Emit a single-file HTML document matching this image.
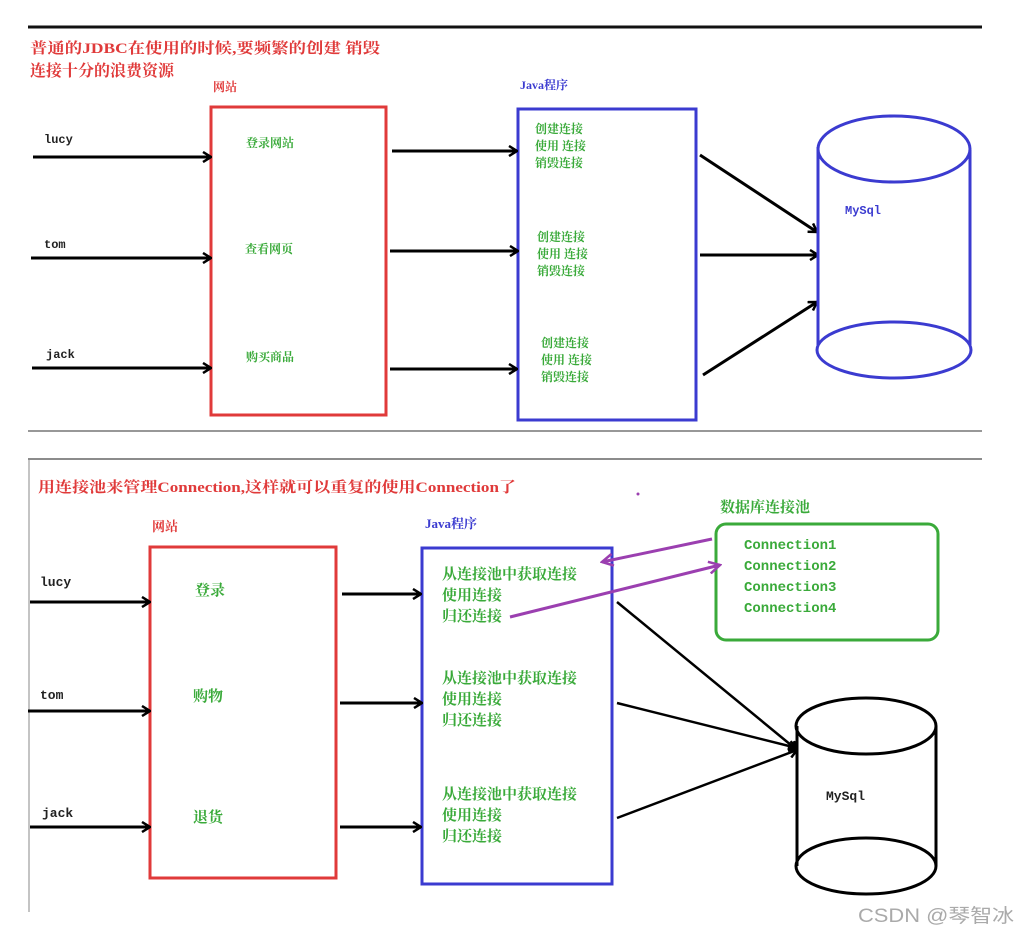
<!DOCTYPE html>
<html><head><meta charset="utf-8"><style>
html,body{margin:0;padding:0;background:#fff;}
svg{display:block;}
text{font-family:"Liberation Serif","Noto Serif CJK SC","WenQuanYi Zen Hei",serif;font-weight:bold;}
.m{font-family:"Liberation Mono","Noto Serif CJK SC",monospace;}
</style></head><body>
<svg width="1018" height="933" viewBox="0 0 1018 933" xmlns="http://www.w3.org/2000/svg">
<defs>
<marker id="a" markerWidth="10" markerHeight="12" refX="9" refY="6" orient="auto" markerUnits="userSpaceOnUse"><path d="M1,1 L9,6 L1,11" fill="none" stroke="#000" stroke-width="2.5"/></marker>
<marker id="p" markerWidth="14" markerHeight="14" refX="12" refY="7" orient="auto" markerUnits="userSpaceOnUse"><path d="M1,1 L12,7 L1,13" fill="none" stroke="#9b3fb0" stroke-width="2.5"/></marker>
</defs>
<!-- top panel -->
<line x1="28" y1="27" x2="982" y2="27" stroke="#111" stroke-width="3"/>
<line x1="28" y1="431" x2="982" y2="431" stroke="#777" stroke-width="1.5"/>
<text x="30" y="53" fill="#e03a3a" font-size="15" textLength="350" lengthAdjust="spacingAndGlyphs">普通的JDBC在使用的时候,要频繁的创建 销毁</text>
<text x="30" y="76" fill="#e03a3a" font-size="16">连接十分的浪费资源</text>
<text x="213" y="91" fill="#e03a3a" font-size="12">网站</text>
<text x="520" y="89" fill="#3b3bd0" font-size="12">Java程序</text>
<rect x="211" y="107" width="175" height="308" fill="none" stroke="#e03a3a" stroke-width="3"/>
<rect x="518" y="109" width="178" height="311" fill="none" stroke="#3b3bd0" stroke-width="3"/>
<g fill="#222" font-size="12" class="m">
<text x="44" y="143" class="m">lucy</text><text x="44" y="248" class="m">tom</text><text x="46" y="358" class="m">jack</text>
</g>
<g stroke="#000" stroke-width="3" marker-end="url(#a)">
<line x1="33" y1="157" x2="211" y2="157"/><line x1="31" y1="258" x2="211" y2="258"/><line x1="32" y1="368" x2="211" y2="368"/>
<line x1="392" y1="151" x2="517" y2="151"/><line x1="390" y1="251" x2="518" y2="251"/><line x1="390" y1="369" x2="517" y2="369"/>
<line x1="700" y1="155" x2="817" y2="232"/><line x1="700" y1="255" x2="818" y2="255"/><line x1="703" y1="375" x2="817" y2="302"/>
</g>
<g fill="#3aaa3a" font-size="12">
<text x="246" y="147">登录网站</text><text x="245" y="253">查看网页</text><text x="246" y="361">购买商品</text>
<text x="535" y="133">创建连接</text><text x="535" y="150">使用 连接</text><text x="535" y="167">销毁连接</text>
<text x="537" y="241">创建连接</text><text x="537" y="258">使用 连接</text><text x="537" y="275">销毁连接</text>
<text x="541" y="347">创建连接</text><text x="541" y="364">使用 连接</text><text x="541" y="381">销毁连接</text>
</g>
<g fill="none" stroke="#3b3bd0" stroke-width="3">
<line x1="818" y1="147" x2="818" y2="345"/><line x1="970" y1="150" x2="970" y2="345"/>
<ellipse cx="894" cy="149" rx="76" ry="33"/><ellipse cx="894" cy="350" rx="77" ry="28"/>
</g>
<text x="845" y="214" fill="#3b3bd0" font-size="12" class="m">MySql</text>
<!-- bottom panel -->
<line x1="28" y1="459" x2="982" y2="459" stroke="#666" stroke-width="1.5"/>
<line x1="29" y1="459" x2="29" y2="912" stroke="#888" stroke-width="1"/>
<text x="38" y="492" fill="#e03a3a" font-size="15" textLength="478" lengthAdjust="spacingAndGlyphs">用连接池来管理Connection,这样就可以重复的使用Connection了</text>
<circle cx="638" cy="494" r="1.5" fill="#9b3fb0"/>
<text x="720" y="512" fill="#3aaa3a" font-size="15">数据库连接池</text>
<rect x="716" y="524" width="222" height="116" rx="10" fill="none" stroke="#3aaa3a" stroke-width="3"/>
<g fill="#3aaa3a" font-size="14" class="m">
<text x="744" y="549" class="m">Connection1</text><text x="744" y="570" class="m">Connection2</text><text x="744" y="591" class="m">Connection3</text><text x="744" y="612" class="m">Connection4</text>
</g>
<text x="152" y="531" fill="#e03a3a" font-size="13">网站</text>
<text x="425" y="528" fill="#3b3bd0" font-size="13">Java程序</text>
<rect x="150" y="547" width="186" height="331" fill="none" stroke="#e03a3a" stroke-width="3"/>
<rect x="422" y="548" width="190" height="336" fill="none" stroke="#3b3bd0" stroke-width="3"/>
<g fill="#222" font-size="13">
<text x="40" y="586" class="m">lucy</text><text x="40" y="699" class="m">tom</text><text x="42" y="817" class="m">jack</text>
</g>
<g stroke="#000" stroke-width="3" marker-end="url(#a)">
<line x1="30" y1="602" x2="150" y2="602"/><line x1="28" y1="711" x2="150" y2="711"/><line x1="30" y1="827" x2="150" y2="827"/>
<line x1="342" y1="594" x2="421" y2="594"/><line x1="340" y1="703" x2="422" y2="703"/><line x1="340" y1="827" x2="421" y2="827"/>
</g>
<g stroke="#000" stroke-width="2.5" marker-end="url(#a)">
<line x1="617" y1="602" x2="797" y2="750"/><line x1="617" y1="703" x2="797" y2="748"/><line x1="617" y1="818" x2="797" y2="750"/>
</g>
<g fill="#3aaa3a" font-size="15">
<text x="195" y="595">登录</text><text x="193" y="701">购物</text><text x="193" y="822">退货</text>
<text x="442" y="579">从连接池中获取连接</text><text x="442" y="600">使用连接</text><text x="442" y="621">归还连接</text>
<text x="442" y="683">从连接池中获取连接</text><text x="442" y="704">使用连接</text><text x="442" y="725">归还连接</text>
<text x="442" y="799">从连接池中获取连接</text><text x="442" y="820">使用连接</text><text x="442" y="841">归还连接</text>
</g>
<g stroke="#9b3fb0" stroke-width="3" marker-end="url(#p)">
<line x1="712" y1="539" x2="602" y2="562"/><line x1="510" y1="617" x2="720" y2="565"/>
</g>
<g fill="none" stroke="#000" stroke-width="3">
<line x1="797" y1="726" x2="797" y2="866"/><line x1="936" y1="726" x2="936" y2="866"/>
<ellipse cx="866" cy="726" rx="70" ry="28"/><ellipse cx="866" cy="866" rx="70" ry="28"/>
</g>
<text x="826" y="800" fill="#222" font-size="13" class="m">MySql</text>
<text x="858" y="922" fill="#aaa" font-size="19" textLength="156" lengthAdjust="spacingAndGlyphs" style="font-family:'Liberation Sans','Noto Sans CJK SC',sans-serif;font-weight:normal">CSDN @琴智冰</text>
</svg>
</body></html>
